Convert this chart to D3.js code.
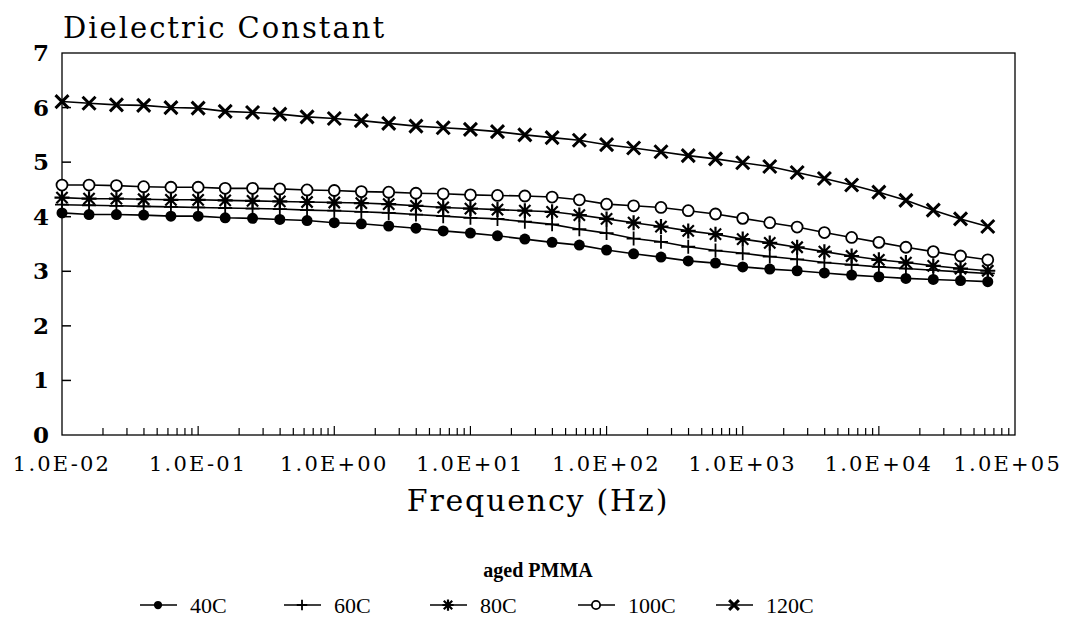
<!DOCTYPE html>
<html>
<head>
<meta charset="utf-8">
<script src="https://cdn.jsdelivr.net/npm/d3@7"></script>
<style>
  body { margin: 0; background: #fff; }
  svg { display: block; }
</style>
</head>
<body>
<svg id="chart" width="1068" height="633"></svg>
<script>
// frequencies, 5 points per decade
const freqs = [0.01, 0.0158, 0.0251, 0.0398, 0.0631, 0.1, 0.158, 0.251, 0.398, 0.631,
  1, 1.58, 2.51, 3.98, 6.31, 10, 15.8, 25.1, 39.8, 63.1,
  100, 158, 251, 398, 631, 1000, 1580, 2510, 3980, 6310,
  10000, 15800, 25100, 39800, 63100];

const c40 = [4.07, 4.04, 4.04, 4.03, 4.01, 4.01, 3.98, 3.97, 3.95, 3.93,
  3.89, 3.87, 3.83, 3.79, 3.74, 3.70, 3.65, 3.59, 3.53, 3.48,
  3.39, 3.32, 3.26, 3.19, 3.15, 3.08, 3.04, 3.01, 2.97, 2.93,
  2.90, 2.87, 2.85, 2.83, 2.81];
const c60 = [4.22, 4.21, 4.20, 4.19, 4.18, 4.17, 4.16, 4.15, 4.14, 4.12,
  4.11, 4.09, 4.07, 4.04, 4.01, 3.98, 3.96, 3.91, 3.86, 3.77,
  3.70, 3.60, 3.54, 3.45, 3.38, 3.33, 3.27, 3.22, 3.16, 3.12,
  3.08, 3.05, 3.02, 2.99, 2.96];
const c80 = [4.35, 4.33, 4.33, 4.32, 4.31, 4.31, 4.30, 4.29, 4.28, 4.27,
  4.26, 4.25, 4.23, 4.20, 4.17, 4.15, 4.13, 4.11, 4.09, 4.03,
  3.96, 3.89, 3.82, 3.74, 3.68, 3.59, 3.52, 3.44, 3.36, 3.28,
  3.21, 3.16, 3.10, 3.05, 3.01];
const c100 = [4.58, 4.58, 4.57, 4.55, 4.54, 4.54, 4.52, 4.52, 4.51, 4.49,
  4.48, 4.46, 4.45, 4.43, 4.42, 4.40, 4.39, 4.38, 4.36, 4.31,
  4.23, 4.20, 4.17, 4.11, 4.05, 3.97, 3.89, 3.81, 3.71, 3.62,
  3.53, 3.44, 3.36, 3.28, 3.21];
const c120 = [6.11, 6.08, 6.05, 6.04, 6.00, 5.99, 5.93, 5.91, 5.88, 5.83,
  5.80, 5.76, 5.71, 5.66, 5.63, 5.60, 5.56, 5.50, 5.45, 5.40,
  5.32, 5.26, 5.19, 5.12, 5.06, 4.99, 4.92, 4.81, 4.70, 4.58,
  4.45, 4.30, 4.12, 3.96, 3.82];

const seriesNames = ["40C", "60C", "80C", "100C", "120C"];
const seriesMarks = ["dot", "plus", "star", "ring", "cross"];
const seriesValues = [c40, c60, c80, c100, c120];

const yTicks = [0, 1, 2, 3, 4, 5, 6, 7];
const xTicks = [1e-2, 1e-1, 1e0, 1e1, 1e2, 1e3, 1e4, 1e5];
const xTickLabels = ["1.0E-02", "1.0E-01", "1.0E+00", "1.0E+01", "1.0E+02", "1.0E+03", "1.0E+04", "1.0E+05"];

const svg = d3.select("#chart");
const margin = { top: 53, right: 53, bottom: 198, left: 62 };
const W = 1068, H = 633;

const x = d3.scaleLog().domain([1e-2, 1e5]).range([margin.left, W - margin.right]);
const y = d3.scaleLinear().domain([0, 7]).range([H - margin.bottom, margin.top]);

const serif = "'DejaVu Serif', 'Liberation Serif', serif";

// frame
svg.append("rect")
  .attr("x", x.range()[0]).attr("y", y.range()[1])
  .attr("width", x.range()[1] - x.range()[0])
  .attr("height", y.range()[0] - y.range()[1])
  .attr("fill", "none").attr("stroke", "#000").attr("stroke-width", 1.3);

// y ticks (inside) + labels
svg.append("g").selectAll("line")
  .data(yTicks.filter(d => d > 0 && d < 7))
  .join("line")
  .attr("x1", x.range()[0]).attr("x2", x.range()[0] + 9)
  .attr("y1", d => y(d)).attr("y2", d => y(d))
  .attr("stroke", "#000").attr("stroke-width", 1.5);

svg.append("g").selectAll("text")
  .data(yTicks)
  .join("text")
  .attr("x", 49).attr("y", d => y(d) + 8)
  .attr("text-anchor", "end")
  .attr("font-family", serif).attr("font-weight", "bold").attr("font-size", 23)
  .text(d => d);

// x minor/major log ticks pointing up
const minor = [];
for (let e = -2; e < 5; e++) {
  for (let m = 2; m <= 9; m++) minor.push(m * Math.pow(10, e));
}
svg.append("g").selectAll("line")
  .data(minor)
  .join("line")
  .attr("x1", d => x(d)).attr("x2", d => x(d))
  .attr("y1", y(0)).attr("y2", y(0) - 7)
  .attr("stroke", "#000").attr("stroke-width", 1.2);
svg.append("g").selectAll("line")
  .data(xTicks.slice(1, -1))
  .join("line")
  .attr("x1", d => x(d)).attr("x2", d => x(d))
  .attr("y1", y(0)).attr("y2", y(0) - 9)
  .attr("stroke", "#000").attr("stroke-width", 1.2);

// last label kept inside the page edge
svg.append("g").selectAll("text")
  .data(xTicks)
  .join("text")
  .attr("x", (d, i) => i === xTicks.length - 1 ? W - 6 : x(d))
  .attr("y", y(0) + 36)
  .attr("text-anchor", (d, i) => i === xTicks.length - 1 ? "end" : "middle")
  .attr("font-family", serif).attr("font-size", 21)
  .attr("letter-spacing", 2.2)
  .text((d, i) => xTickLabels[i]);

// titles
svg.append("text")
  .attr("x", 63).attr("y", 38)
  .attr("font-family", serif).attr("font-size", 29)
  .attr("letter-spacing", 2)
  .text("Dielectric Constant");

svg.append("text")
  .attr("x", 538).attr("y", 511)
  .attr("text-anchor", "middle")
  .attr("font-family", serif).attr("font-size", 30)
  .attr("letter-spacing", 1.8)
  .text("Frequency (Hz)");

svg.append("text")
  .attr("x", 538).attr("y", 577)
  .attr("text-anchor", "middle")
  .attr("font-family", "'Liberation Serif', serif").attr("font-weight", "bold").attr("font-size", 20)
  .text("aged PMMA");

// markers
function drawMark(g, kind, cx, cy, s) {
  if (kind === "dot") {
    g.append("circle").attr("cx", cx).attr("cy", cy).attr("r", 5.5 * s).attr("fill", "#000");
  } else if (kind === "ring") {
    g.append("circle").attr("cx", cx).attr("cy", cy).attr("r", 5.5 * s)
      .attr("fill", "#fff").attr("stroke", "#000").attr("stroke-width", 1.8);
  } else if (kind === "plus") {
    const a = 7 * s;
    g.append("path").attr("d", `M${cx - a},${cy}H${cx + a}M${cx},${cy - a}V${cy + a}`)
      .attr("stroke", "#000").attr("stroke-width", 1.8);
  } else if (kind === "cross") {
    const a = 6.5 * s;
    g.append("path").attr("d", `M${cx - a},${cy - a}L${cx + a},${cy + a}M${cx - a},${cy + a}L${cx + a},${cy - a}`)
      .attr("stroke", "#000").attr("stroke-width", 3);
  } else if (kind === "star") {
    const a = 7.5 * s, b = a * 0.75;
    g.append("path").attr("d",
      `M${cx - a},${cy}H${cx + a}M${cx},${cy - a}V${cy + a}` +
      `M${cx - b},${cy - b}L${cx + b},${cy + b}M${cx - b},${cy + b}L${cx + b},${cy - b}`)
      .attr("stroke", "#000").attr("stroke-width", 2.2);
  }
}

const line = d3.line().x(d => x(d[0])).y(d => y(d[1]));

seriesValues.forEach((vals, si) => {
  const pts = freqs.map((f, i) => [f, vals[i]]);
  svg.append("path")
    .datum(pts)
    .attr("d", line)
    .attr("fill", "none").attr("stroke", "#000").attr("stroke-width", 1.6);
});
seriesValues.forEach((vals, si) => {
  const g = svg.append("g");
  freqs.forEach((f, i) => drawMark(g, seriesMarks[si], x(f), y(vals[i]), 1));
});

// legend
const legendX = [140, 284, 430, 578, 716];
const lg = svg.append("g");
seriesNames.forEach((name, i) => {
  const lx = legendX[i], ly = 605;
  lg.append("line").attr("x1", lx).attr("x2", lx + 37).attr("y1", ly).attr("y2", ly)
    .attr("stroke", "#000").attr("stroke-width", 1.6);
  drawMark(lg, seriesMarks[i], lx + 18, ly, 0.75);
  lg.append("text")
    .attr("x", lx + 50).attr("y", ly + 8)
    .attr("font-family", "'Liberation Serif', serif").attr("font-size", 22)
    .text(name);
});
</script>
</body>
</html>
